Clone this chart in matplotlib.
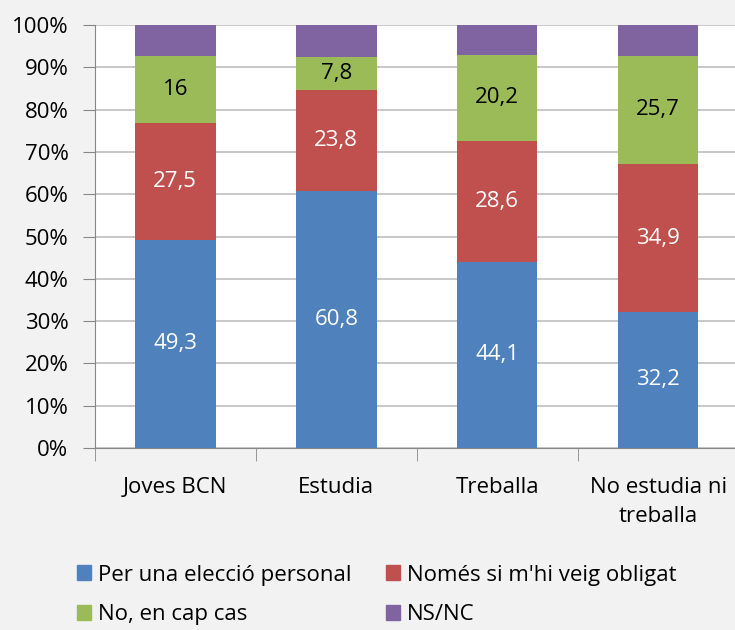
import numpy as np
import matplotlib.pyplot as plt
from matplotlib.patches import Patch

plt.rcParams['font.family'] = ['Open Sans', 'DejaVu Sans']

categories = ['Joves BCN', 'Estudia', 'Treballa', 'No estudia ni\ntreballa']
series_names = ['Per una elecció personal', "Només si m'hi veig obligat", 'No, en cap cas', 'NS/NC']
personal = [49.3, 60.8, 44.1, 32.2]
obligat = [27.5, 23.8, 28.6, 34.9]
cap_cas = [16, 7.8, 20.2, 25.7]
nsnc = [7.2, 7.6, 7.1, 7.2]
colors = ['#4f81bd', '#c0504d', '#9bbb59', '#8064a2']
label_colors = ['white', 'white', 'black', None]

fs = 16
bg = '#f2f2f2'
fig = plt.figure(figsize=(7.35, 6.3), dpi=100, facecolor=bg)
ax = fig.add_axes([0.129, 0.289, 0.876, 0.671])
ax.set_facecolor('white')

x = np.arange(len(categories))
bottom = np.zeros(len(categories))
for vals, col, lc in zip([personal, obligat, cap_cas, nsnc], colors, label_colors):
    vals = np.array(vals, dtype=float)
    ax.bar(x, vals, 0.5, bottom=bottom, color=col, zorder=3)
    if lc is not None:
        for xi, b, v in zip(x, bottom, vals):
            txt = ('%g' % v).replace('.', ',')
            ax.text(xi, b + v / 2, txt, ha='center', va='center', color=lc, fontsize=fs, zorder=4)
    bottom += vals

ax.set_xlim(-0.5, len(categories) - 0.5)
ax.set_ylim(0, 100)
ax.set_yticks(np.arange(0, 101, 10))
ax.set_yticklabels(['%d%%' % v for v in range(0, 101, 10)], fontsize=fs)
ax.yaxis.grid(True, color='#bfbfbf', linewidth=1.2, zorder=0)
ax.set_axisbelow(True)

ax.set_xticks(x)
ax.set_xticklabels(categories, fontsize=fs, linespacing=1.5)
ax.set_xticks(np.arange(-0.5, len(categories)), minor=True)
ax.tick_params(axis='x', which='major', length=0, pad=21)
ax.tick_params(axis='x', which='minor', length=9, color='#878787')
ax.tick_params(axis='y', length=9, color='#878787', pad=10)

for s in ['top', 'right']:
    ax.spines[s].set_visible(False)
for s in ['left', 'bottom']:
    ax.spines[s].set_color('#878787')

handles = [Patch(color=colors[i]) for i in [0, 2, 1, 3]]
labels = [series_names[i] for i in [0, 2, 1, 3]]
fig.legend(handles, labels, ncol=2, frameon=False, loc='upper left',
           bbox_to_anchor=(0.092, 0.118), fontsize=fs,
           handlelength=0.65, handleheight=0.65, handletextpad=0.3,
           columnspacing=1.55, labelspacing=0.85, borderaxespad=0)

fig.savefig('out.png', dpi=100, facecolor=bg)
